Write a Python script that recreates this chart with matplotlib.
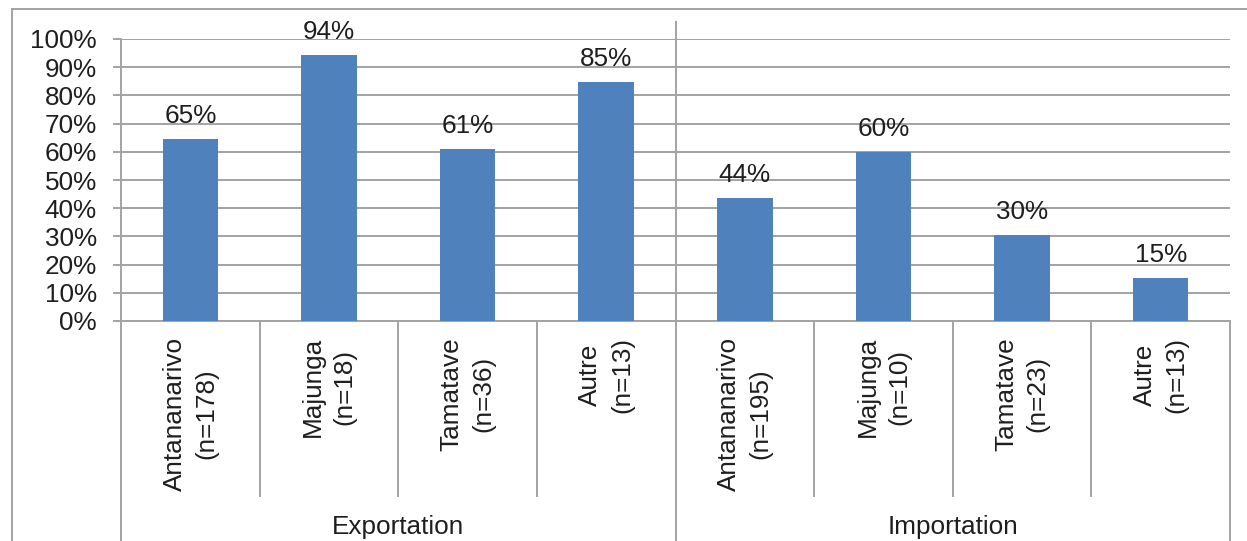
import matplotlib
matplotlib.use("Agg")
import matplotlib.pyplot as plt
from matplotlib.lines import Line2D
import numpy as np

# ------------ DATA ------------
groups = ["Exportation", "Importation"]
cities = ["Antananarivo", "Majunga", "Tamatave", "Autre"]
n_export = [178, 18, 36, 13]
n_import = [195, 10, 23, 13]
share_export = [0.646, 0.943, 0.611, 0.846]
share_import = [0.436, 0.600, 0.304, 0.154]
y_ticks = [0.0, 0.1, 0.2, 0.3, 0.4, 0.5, 0.6, 0.7, 0.8, 0.9, 1.0]
# ------------------------------

plt.rcParams["font.family"] = ["Liberation Sans", "DejaVu Sans"]
FS = 18.8
TXT = "#1e1e1e"
GRID = "#a3a3a3"
BAR = "#4f81bd"

W, H = 1247, 541
fig = plt.figure(figsize=(W / 100, H / 100), dpi=100)

# plot area in pixels: x 121..1230, y 39..321
x0, x1, ytop, ybot = 121, 1230, 39, 321
ax = fig.add_axes([x0 / W, (H - ybot) / H, (x1 - x0) / W, (ybot - ytop) / H])

values = share_export + share_import
labels = [f"{c}\n(n={n})" for c, n in zip(cities, n_export)] + \
         [f"{c}\n(n={n})" for c, n in zip(cities, n_import)]
xs = np.arange(len(values))

ax.bar(xs, values, width=0.4, color=BAR, zorder=3)
for x, v in zip(xs, values):
    ax.annotate(f"{v:.0%}", xy=(x, v), xytext=(0, 11.5), textcoords="offset points",
                ha="center", va="baseline", fontsize=FS, color=TXT)

ax.set_xlim(-0.5, len(values) - 0.5)
ax.set_ylim(0, 1)
ax.set_yticks(y_ticks)
ax.set_yticklabels([f"{t:.0%}" for t in y_ticks], fontsize=FS, color=TXT)
ax.yaxis.grid(True, color=GRID, linewidth=1.4, zorder=0)
ax.set_axisbelow(True)
ax.tick_params(axis="y", length=5.8, width=1.4, color=GRID, pad=11.5)
ax.set_xticks([])
for s in ["top", "right"]:
    ax.spines[s].set_visible(False)
for s in ["left", "bottom"]:
    ax.spines[s].set_color(GRID)
    ax.spines[s].set_linewidth(1.4)

trans = ax.get_xaxis_transform()
ph = ybot - ytop

# category separators below the axis
for b in [0.5, 1.5, 2.5, 4.5, 5.5, 6.5]:
    ax.add_line(Line2D([b, b], [0, -(496 - ybot) / ph], transform=trans,
                       color=GRID, linewidth=1.4, clip_on=False))
# group separators
for b in [-0.5, 7.5]:
    ax.add_line(Line2D([b, b], [0, -0.9], transform=trans,
                       color=GRID, linewidth=1.4, clip_on=False))
ax.add_line(Line2D([3.5, 3.5], [(ybot - 22) / ph, -0.9], transform=trans,
                   color=GRID, linewidth=1.4, clip_on=False))

# category labels (rotated)
for x, lab in zip(xs, labels):
    ax.annotate(lab, xy=(x, 0), xycoords=trans, xytext=(0, -11.5),
                textcoords="offset points", rotation=90, ha="center", va="top",
                multialignment="center", linespacing=1.4, fontsize=FS, color=TXT)

# group labels
for i, g in enumerate(groups):
    ax.text(1.5 + 4 * i, -(527 - ybot) / ph, g, transform=trans,
            ha="center", va="center", fontsize=FS, color=TXT)

# chart border
fig.add_artist(Line2D([12 / W, 12 / W], [0, (H - 9) / H], transform=fig.transFigure,
                      color=GRID, linewidth=1.4))
fig.add_artist(Line2D([12 / W, 1], [(H - 9) / H, (H - 9) / H], transform=fig.transFigure,
                      color=GRID, linewidth=1.4))

fig.savefig("out.png", dpi=100, facecolor="white")
